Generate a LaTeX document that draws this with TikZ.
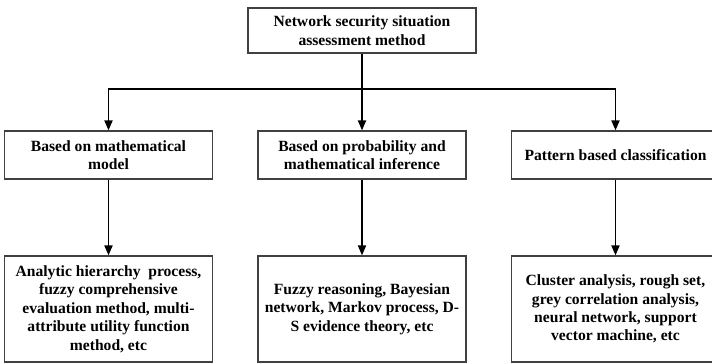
\documentclass[tikz,border=0pt]{standalone}
\usepackage{fontspec}
\setmainfont{Liberation Serif}
\usepackage{tikz}
\usetikzlibrary{shapes,arrows.meta}
\tikzstyle{block} = [rectangle, draw=black!75, line width=0.6pt, align=center,
    font=\bfseries\fontsize{7.8}{9.2}\selectfont, inner sep=2pt]
\tikzstyle{topblock} = [block, minimum width=114pt, minimum height=22.5pt]
\tikzstyle{midblock} = [block, minimum width=104pt, minimum height=24pt]
\tikzstyle{lowblock} = [block, minimum width=104pt, minimum height=53pt]
\tikzstyle{arrow} = [draw, -{Triangle[length=5pt,width=4pt]}, line width=0.9pt]
\tikzstyle{line} = [draw, line width=0.9pt]

\begin{document}
\begin{tikzpicture}[node distance = 2cm, auto]
    \useasboundingbox (0,0) rectangle (356pt,-182pt);
    % Place nodes
    \node [topblock] at (181pt,-15.25pt) (method) {Network security situation\\assessment method};
    \coordinate [below of=method, node distance=29.25pt] (split);
%
    \node [midblock, below of=method, node distance=62.25pt] (probability) {Based on probability and\\mathematical inference};
    \node [midblock, left of=probability, node distance=126.75pt] (mathModel) {Based on mathematical\\model};
    \node [midblock, right of=probability, node distance=126.75pt] (pattern) {Pattern based classification};
%
    \node [lowblock, below of=mathModel, node distance=77pt] (mathMethods) {Analytic hierarchy\ \ process,\\fuzzy comprehensive\\evaluation method, multi-\\attribute utility function\\method, etc};
    \node [lowblock, below of=probability, node distance=77pt] (probMethods) {Fuzzy reasoning, Bayesian\\network, Markov process, D-\\S evidence theory, etc};
    \node [lowblock, below of=pattern, node distance=77pt] (patternMethods) {Cluster analysis, rough set,\\grey correlation analysis,\\neural network, support\\vector machine, etc};
    % Draw edges
    \path [line] (method) -- (split);
    \path [arrow] (split) -| (mathModel);
    \path [arrow] (split) -- (probability);
    \path [arrow] (split) -| (pattern);

    \path [arrow] (mathModel) -- (mathMethods);
    \path [arrow] (probability) -- (probMethods);
    \path [arrow] (pattern) -- (patternMethods);
\end{tikzpicture}
\end{document}
